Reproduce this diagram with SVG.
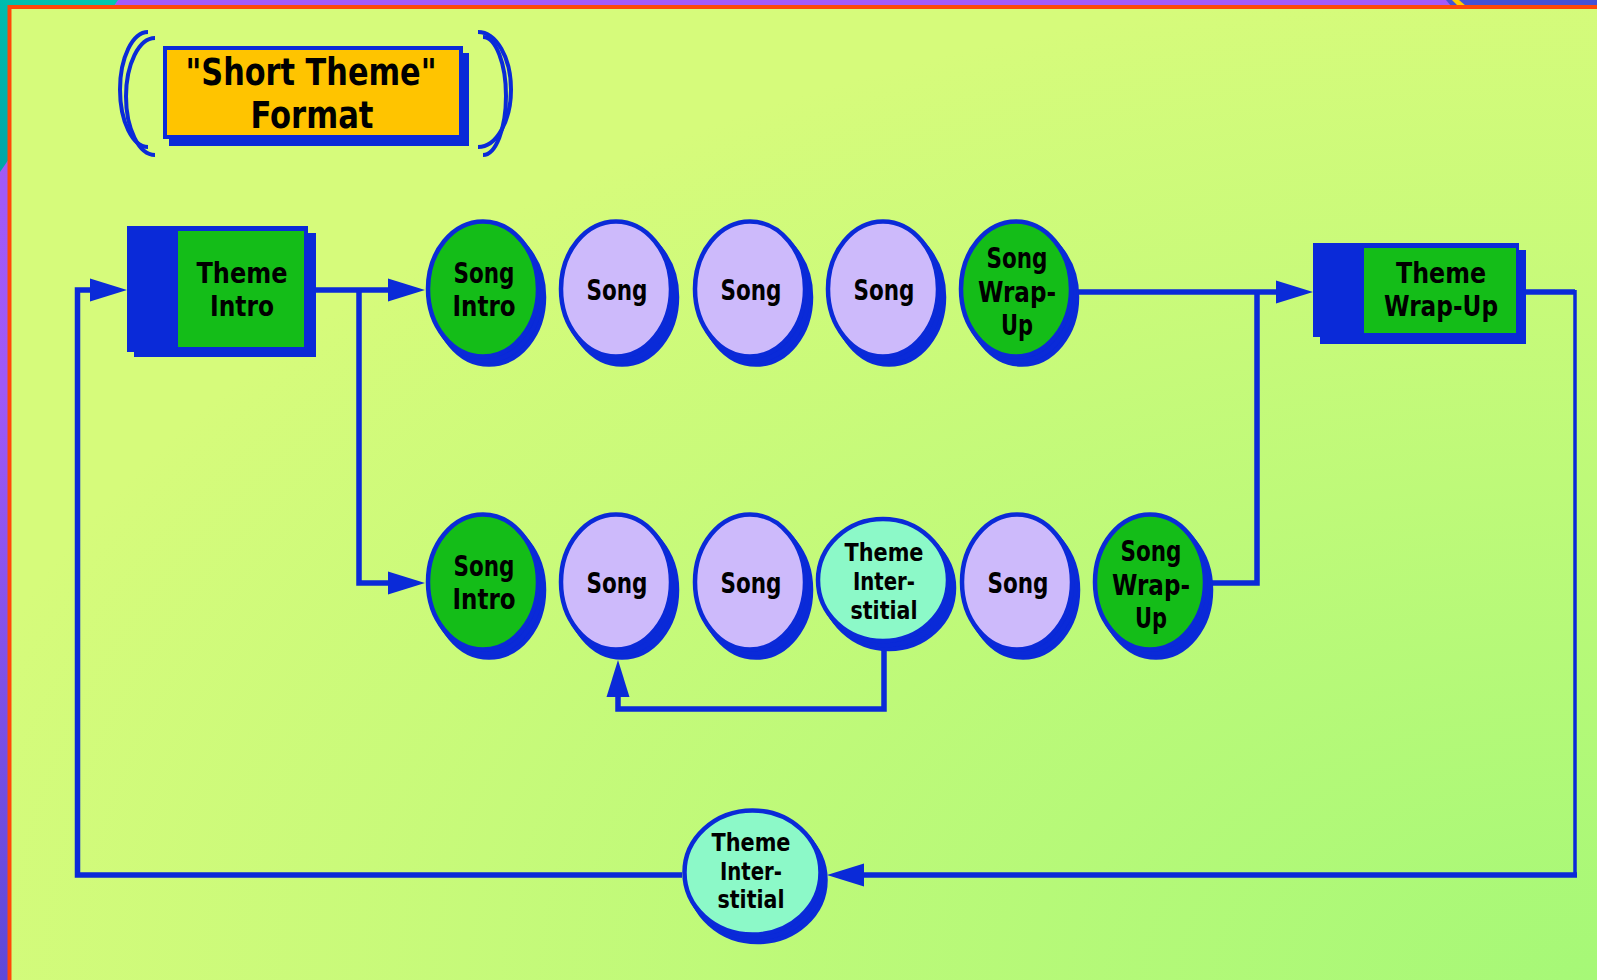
<svg xmlns="http://www.w3.org/2000/svg" width="1597" height="980" viewBox="0 0 1597 980">
  <defs>
    <radialGradient id="panel" gradientUnits="userSpaceOnUse" cx="1597" cy="980" r="1700" gradientTransform="translate(1597 980) scale(1 0.59) translate(-1597 -980)">
      <stop offset="0" stop-color="#a6f877"/>
      <stop offset="1" stop-color="#d6fb7b"/>
    </radialGradient>
    <linearGradient id="edge" x1="0" y1="0" x2="0" y2="980" gradientUnits="userSpaceOnUse">
      <stop offset="0" stop-color="#a35af8"/>
      <stop offset="0.4" stop-color="#9f58f6"/>
      <stop offset="1" stop-color="#5e48d8"/>
    </linearGradient>
    <linearGradient id="corner" x1="118" y1="0" x2="0" y2="172" gradientUnits="userSpaceOnUse">
      <stop offset="0" stop-color="#00c8b0"/>
      <stop offset="1" stop-color="#00a4a8"/>
    </linearGradient>
    <marker id="arrow" markerUnits="userSpaceOnUse" markerWidth="38" markerHeight="24" refX="0" refY="12" orient="auto" overflow="visible">
      <path d="M0,0.5 L37,12 L0,23.5 Z" fill="#0a2ad8"/>
    </marker>
    <style>
      .ln{fill:none;stroke:#0a2ad8;stroke-width:5.5;stroke-linejoin:miter}
      .thin{stroke-width:3.5}
      .sh{fill:#0a2ad8;stroke:#0a2ad8;stroke-width:4.5}
      .song{fill:#cdbafb;stroke:#0a2ad8;stroke-width:4.5}
      .grn{fill:#14bd18;stroke:#0a2ad8;stroke-width:4.5}
      .aqua{fill:#8cf9c8;stroke:#0a2ad8;stroke-width:4.5}
      .blue{fill:#0a2ad8}
      .box{fill:#14bd18}
      .arc{fill:none;stroke:#0a2ad8;stroke-width:4}
      text{font-family:"DejaVu Sans Condensed","DejaVu Sans",sans-serif;font-weight:bold;text-anchor:middle;fill:#000}
      .t27{font-size:27.5px}
      .t24{font-size:24px}
      .t37{font-size:37px}
    </style>
  </defs>

  <!-- backdrop and frame -->
  <rect width="1597" height="980" fill="#a35af8"/>
  <rect x="0" y="0" width="12" height="980" fill="url(#edge)"/>
  <polygon points="0,0 118,0 0,172" fill="url(#corner)"/>
  <polygon points="1446,0 1597,0 1597,6 1451,6" fill="#4452d6"/>
  <polygon points="1452,0 1459,0 1466,6 1458,6" fill="#ffcc00"/>
  <rect x="7.5" y="5" width="1590" height="975" fill="#ff4808"/>
  <rect x="11.5" y="9" width="1586" height="971" fill="url(#panel)"/>

  <!-- title -->
  <g id="title">
    <path class="arc" d="M148,32 A28,57.5 0 0 0 148,147"/>
    <path class="arc" d="M155,38 A29,58.5 0 0 0 155,155"/>
    <path class="arc" d="M478,32 A33,57.5 0 0 1 478,147"/>
    <path class="arc" d="M483,37 A23,59 0 0 1 483,155"/>
    <rect class="blue" x="169" y="53" width="300" height="93"/>
    <rect class="blue" x="163" y="46" width="300" height="93"/>
    <rect x="167" y="50" width="292" height="85" fill="#ffc400"/>
    <text class="t37" x="311" y="85" textLength="251" lengthAdjust="spacingAndGlyphs">"Short Theme"</text>
    <text class="t37" x="312" y="128" textLength="123" lengthAdjust="spacingAndGlyphs">Format</text>
  </g>

  <!-- connectors -->
  <g id="connectors">
    <polyline class="ln" points="316,290 388,290" marker-end="url(#arrow)"/>
    <polyline class="ln" points="359,290 359,583 388,583" marker-end="url(#arrow)"/>
    <polyline class="ln" points="1073,292 1276,292" marker-end="url(#arrow)"/>
    <polyline class="ln" points="1207,583 1257,583 1257,292"/>
    <polyline class="ln" points="1526,292 1575,292"/>
    <polyline class="ln thin" points="1575,290 1575,875"/>
    <polyline class="ln" points="1577,875 864,875" marker-end="url(#arrow)"/>
    <polyline class="ln" points="682,875 77.5,875 77.5,290 90,290" marker-end="url(#arrow)"/>
    <polyline class="ln" points="884,648 884,709 618,709 618,697" marker-end="url(#arrow)"/>
  </g>

  <!-- theme blocks -->
  <g id="theme-intro">
    <rect class="blue" x="134" y="233" width="182" height="124"/>
    <rect class="blue" x="127" y="226" width="181" height="126"/>
    <rect class="box" x="178" y="231" width="126" height="116"/>
    <text class="t27" x="242" y="283" textLength="91" lengthAdjust="spacingAndGlyphs">Theme</text>
    <text class="t27" x="242" y="316" textLength="64" lengthAdjust="spacingAndGlyphs">Intro</text>
  </g>
  <g id="theme-wrap-up">
    <rect class="blue" x="1320" y="250" width="206" height="94"/>
    <rect class="blue" x="1313" y="243" width="206" height="94"/>
    <rect class="box" x="1364" y="248" width="152" height="85"/>
    <text class="t27" x="1441" y="283" textLength="90" lengthAdjust="spacingAndGlyphs">Theme</text>
    <text class="t27" x="1441" y="316" textLength="114" lengthAdjust="spacingAndGlyphs">Wrap-Up</text>
  </g>

  <!-- upper sequence -->
  <g id="a-song-intro">
    <ellipse class="sh" cx="489" cy="297" rx="55" ry="67.5"/>
    <ellipse class="sh" cx="486" cy="293" rx="55" ry="67.5"/>
    <ellipse class="grn" cx="483" cy="289" rx="55" ry="67.5"/>
    <text class="t27" x="484" y="283" textLength="61" lengthAdjust="spacingAndGlyphs">Song</text>
    <text class="t27" x="484" y="316" textLength="63" lengthAdjust="spacingAndGlyphs">Intro</text>
  </g>
  <g id="a-song-1">
    <ellipse class="sh" cx="622" cy="297" rx="55" ry="67.5"/>
    <ellipse class="sh" cx="619" cy="293" rx="55" ry="67.5"/>
    <ellipse class="song" cx="616" cy="289" rx="55" ry="67.5"/>
    <text class="t27" x="617" y="300" textLength="61" lengthAdjust="spacingAndGlyphs">Song</text>
  </g>
  <g id="a-song-2">
    <ellipse class="sh" cx="756" cy="297" rx="55" ry="67.5"/>
    <ellipse class="sh" cx="753" cy="293" rx="55" ry="67.5"/>
    <ellipse class="song" cx="750" cy="289" rx="55" ry="67.5"/>
    <text class="t27" x="751" y="300" textLength="61" lengthAdjust="spacingAndGlyphs">Song</text>
  </g>
  <g id="a-song-3">
    <ellipse class="sh" cx="889" cy="297" rx="55" ry="67.5"/>
    <ellipse class="sh" cx="886" cy="293" rx="55" ry="67.5"/>
    <ellipse class="song" cx="883" cy="289" rx="55" ry="67.5"/>
    <text class="t27" x="884" y="300" textLength="61" lengthAdjust="spacingAndGlyphs">Song</text>
  </g>
  <g id="a-song-wrap-up">
    <ellipse class="sh" cx="1022" cy="297" rx="55" ry="67.5"/>
    <ellipse class="sh" cx="1019" cy="293" rx="55" ry="67.5"/>
    <ellipse class="grn" cx="1016" cy="289" rx="55" ry="67.5"/>
    <text class="t27" x="1017" y="268" textLength="61" lengthAdjust="spacingAndGlyphs">Song</text>
    <text class="t27" x="1017" y="302" textLength="78" lengthAdjust="spacingAndGlyphs">Wrap-</text>
    <text class="t27" x="1017" y="335" textLength="32" lengthAdjust="spacingAndGlyphs">Up</text>
  </g>

  <!-- lower sequence -->
  <g id="b-song-intro">
    <ellipse class="sh" cx="489" cy="590" rx="55" ry="67.5"/>
    <ellipse class="sh" cx="486" cy="586" rx="55" ry="67.5"/>
    <ellipse class="grn" cx="483" cy="582" rx="55" ry="67.5"/>
    <text class="t27" x="484" y="576" textLength="61" lengthAdjust="spacingAndGlyphs">Song</text>
    <text class="t27" x="484" y="609" textLength="63" lengthAdjust="spacingAndGlyphs">Intro</text>
  </g>
  <g id="b-song-1">
    <ellipse class="sh" cx="622" cy="590" rx="55" ry="67.5"/>
    <ellipse class="sh" cx="619" cy="586" rx="55" ry="67.5"/>
    <ellipse class="song" cx="616" cy="582" rx="55" ry="67.5"/>
    <text class="t27" x="617" y="593" textLength="61" lengthAdjust="spacingAndGlyphs">Song</text>
  </g>
  <g id="b-song-2">
    <ellipse class="sh" cx="756" cy="590" rx="55" ry="67.5"/>
    <ellipse class="sh" cx="753" cy="586" rx="55" ry="67.5"/>
    <ellipse class="song" cx="750" cy="582" rx="55" ry="67.5"/>
    <text class="t27" x="751" y="593" textLength="61" lengthAdjust="spacingAndGlyphs">Song</text>
  </g>
  <g id="b-interstitial">
    <ellipse class="sh" cx="889" cy="588" rx="65" ry="61"/>
    <ellipse class="sh" cx="886" cy="584" rx="65" ry="61"/>
    <ellipse class="aqua" cx="883" cy="580" rx="65" ry="61"/>
    <text class="t24" x="884" y="561" textLength="79" lengthAdjust="spacingAndGlyphs">Theme</text>
    <text class="t24" x="884" y="590" textLength="62" lengthAdjust="spacingAndGlyphs">Inter-</text>
    <text class="t24" x="884" y="619" textLength="67" lengthAdjust="spacingAndGlyphs">stitial</text>
  </g>
  <g id="b-song-3">
    <ellipse class="sh" cx="1023" cy="590" rx="55" ry="67.5"/>
    <ellipse class="sh" cx="1020" cy="586" rx="55" ry="67.5"/>
    <ellipse class="song" cx="1017" cy="582" rx="55" ry="67.5"/>
    <text class="t27" x="1018" y="593" textLength="61" lengthAdjust="spacingAndGlyphs">Song</text>
  </g>
  <g id="b-song-wrap-up">
    <ellipse class="sh" cx="1156" cy="590" rx="55" ry="67.5"/>
    <ellipse class="sh" cx="1153" cy="586" rx="55" ry="67.5"/>
    <ellipse class="grn" cx="1150" cy="582" rx="55" ry="67.5"/>
    <text class="t27" x="1151" y="561" textLength="61" lengthAdjust="spacingAndGlyphs">Song</text>
    <text class="t27" x="1151" y="595" textLength="78" lengthAdjust="spacingAndGlyphs">Wrap-</text>
    <text class="t27" x="1151" y="628" textLength="32" lengthAdjust="spacingAndGlyphs">Up</text>
  </g>

  <!-- return loop -->
  <g id="c-interstitial">
    <ellipse class="sh" cx="757.5" cy="880" rx="68" ry="62"/>
    <ellipse class="sh" cx="755" cy="876" rx="68" ry="62"/>
    <ellipse class="aqua" cx="752.5" cy="872.5" rx="68" ry="62"/>
    <text class="t24" x="751" y="851" textLength="79" lengthAdjust="spacingAndGlyphs">Theme</text>
    <text class="t24" x="751" y="880" textLength="62" lengthAdjust="spacingAndGlyphs">Inter-</text>
    <text class="t24" x="751" y="908" textLength="67" lengthAdjust="spacingAndGlyphs">stitial</text>
  </g>
</svg>
